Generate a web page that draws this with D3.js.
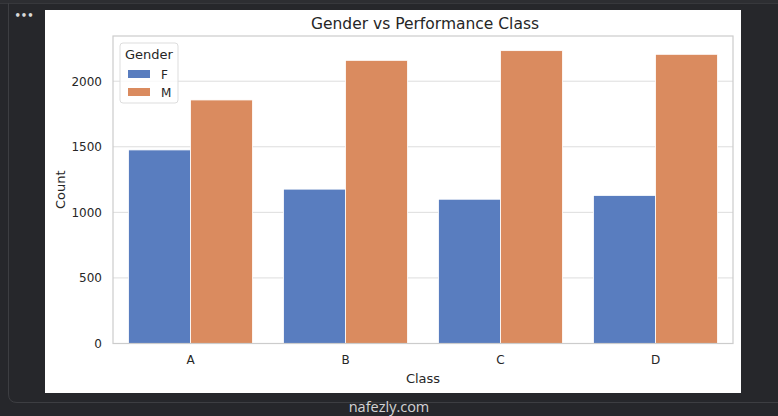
<!DOCTYPE html>
<html>
<head>
<meta charset="utf-8">
<script src="https://cdn.jsdelivr.net/npm/d3@7"></script>
<style>
  html, body { margin: 0; padding: 0; background: #26272b; }
  svg { display: block; font-family: "DejaVu Sans", sans-serif; }
</style>
</head>
<body>
<svg id="chart" width="778" height="416"></svg>
<script>
// data
const classes = ["A", "B", "C", "D"];
const genders = ["F", "M"];
const countF = [1476, 1177, 1100, 1129];
const countM = [1857, 2159, 2233, 2205];
const yTicks = [0, 500, 1000, 1500, 2000];

const colors = { F: "#597dbf", M: "#da8b5f" };

const rows = classes.map((c, i) => ({ Class: c, F: countF[i], M: countM[i] }));

const svg = d3.select("#chart");

// notebook frame around the figure
svg.append("rect").attr("x", 0).attr("y", 0).attr("width", 778).attr("height", 3)
  .attr("fill", "#2d2e32");
svg.append("line").attr("x1", 0).attr("x2", 778).attr("y1", 3.5).attr("y2", 3.5)
  .attr("stroke", "#37383c");
svg.append("path")
  .attr("d", "M8.5,3 L8.5,394 Q8.5,402.5 17,402.5 L778,402.5")
  .attr("fill", "none").attr("stroke", "#3d3e42");
svg.append("text").attr("x", 24).attr("y", 19).attr("text-anchor", "middle")
  .attr("fill", "#d8d8d8").attr("font-size", 10).attr("font-weight", "bold").text("•••");

// figure background
svg.append("rect").attr("x", 45).attr("y", 10).attr("width", 696).attr("height", 383)
  .attr("fill", "#ffffff");

const plot = { left: 113, top: 36, right: 733, bottom: 343.5 };

const x = d3.scaleBand().domain(classes).range([plot.left, plot.right]);
const xSub = d3.scaleBand().domain(genders).range([0, x.bandwidth() * 0.8]);
const yMax = d3.max(countM.concat(countF)) * 1.05;
const y = d3.scaleLinear().domain([0, yMax]).range([plot.bottom, plot.top]);

// grid
svg.append("g")
  .selectAll("line")
  .data(yTicks)
  .join("line")
  .attr("x1", plot.left).attr("x2", plot.right)
  .attr("y1", d => y(d)).attr("y2", d => y(d))
  .attr("stroke", "#dddddd").attr("stroke-width", 1);

// bars
const groups = svg.append("g")
  .selectAll("g")
  .data(rows)
  .join("g")
  .attr("transform", d => `translate(${x(d.Class) + x.bandwidth() * 0.1},0)`);

groups.selectAll("rect")
  .data(d => genders.map(g => ({ g, v: d[g] })))
  .join("rect")
  .attr("x", d => xSub(d.g))
  .attr("width", xSub.bandwidth())
  .attr("y", d => y(d.v))
  .attr("height", d => y(0) - y(d.v))
  .attr("fill", d => colors[d.g])
  .attr("stroke", "#ffffff")
  .attr("stroke-width", 0.8);

// spines
svg.append("rect")
  .attr("x", plot.left).attr("y", plot.top)
  .attr("width", plot.right - plot.left).attr("height", plot.bottom - plot.top)
  .attr("fill", "none").attr("stroke", "#cccccc").attr("stroke-width", 1.2);

// axes
const xAxis = svg.append("g")
  .attr("transform", `translate(0,${plot.bottom})`)
  .call(d3.axisBottom(x).tickSize(0).tickPadding(12));
const yAxis = svg.append("g")
  .attr("transform", `translate(${plot.left},0)`)
  .call(d3.axisLeft(y).tickValues(yTicks).tickFormat(d3.format("d")).tickSize(0).tickPadding(11));
[xAxis, yAxis].forEach(a => {
  a.select(".domain").remove();
  a.selectAll("text")
    .attr("font-family", "DejaVu Sans, sans-serif")
    .attr("font-size", 12)
    .attr("fill", "#262626");
});

// labels
svg.append("text")
  .attr("x", (plot.left + plot.right) / 2 + 2).attr("y", 29)
  .attr("text-anchor", "middle").attr("font-size", 15.5).attr("fill", "#262626")
  .text("Gender vs Performance Class");
svg.append("text")
  .attr("x", (plot.left + plot.right) / 2).attr("y", 383)
  .attr("text-anchor", "middle").attr("font-size", 13).attr("fill", "#262626")
  .text("Class");
svg.append("text")
  .attr("transform", `translate(65,${(plot.top + plot.bottom) / 2}) rotate(-90)`)
  .attr("text-anchor", "middle").attr("font-size", 13).attr("fill", "#262626")
  .text("Count");

// legend
const legend = svg.append("g").attr("transform", "translate(120,43)");
legend.append("rect")
  .attr("width", 58).attr("height", 60).attr("rx", 3)
  .attr("fill", "#ffffff").attr("fill-opacity", 0.8)
  .attr("stroke", "#dddddd");
legend.append("text").attr("x", 29).attr("y", 16).attr("text-anchor", "middle")
  .attr("font-size", 13).attr("fill", "#262626").text("Gender");
const items = legend.selectAll("g.item")
  .data(genders)
  .join("g")
  .attr("class", "item")
  .attr("transform", (d, i) => `translate(8,${27 + i * 18})`);
items.append("rect").attr("width", 22).attr("height", 8).attr("fill", d => colors[d]);
items.append("text").attr("x", 33).attr("y", 9)
  .attr("font-size", 12).attr("fill", "#262626").text(d => d);

// watermark
svg.append("text").attr("x", 389).attr("y", 412).attr("text-anchor", "middle")
  .attr("font-family", "Open Sans, sans-serif").attr("font-size", 14.5)
  .attr("fill", "#f4f4f4").attr("fill-opacity", 0.85).text("nafezly.com");
</script>
</body>
</html>
